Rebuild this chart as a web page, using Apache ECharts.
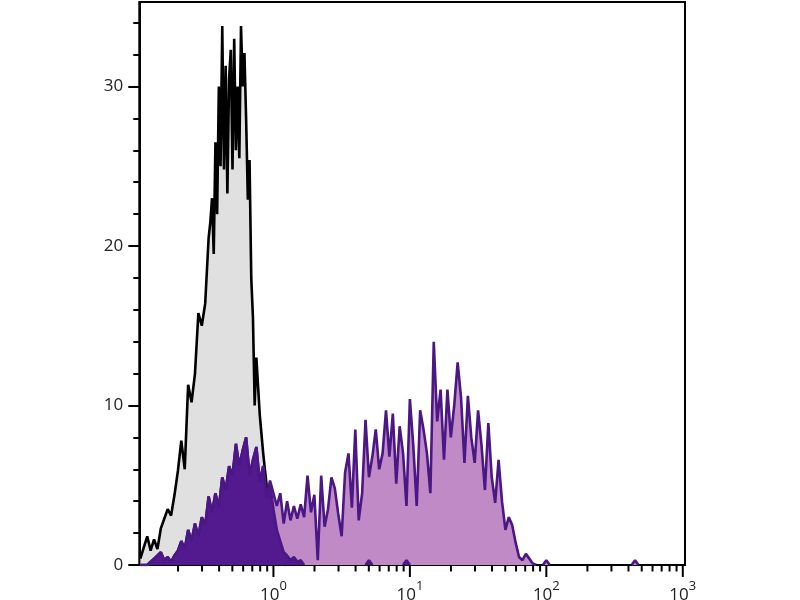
<!DOCTYPE html>
<html><head><meta charset="utf-8">
<script src="https://cdn.jsdelivr.net/npm/echarts@6/dist/echarts.min.js"></script>
<style>html,body{margin:0;padding:0;background:#fff}#c{width:800px;height:600px}</style>
</head><body><div id="c"></div>
<script>
// Channel centres (log-spaced fluorescence bins)
const channels = [
  0.1059, 0.1122, 0.1189, 0.1259, 0.1334, 0.1413, 0.1496, 0.1585, 0.1679, 0.1778,
  0.1884, 0.1995, 0.2113, 0.2239, 0.2371, 0.2512, 0.2661, 0.2818, 0.2985, 0.3162,
  0.3350, 0.3548, 0.3758, 0.3981, 0.4217, 0.4467, 0.4732, 0.5012, 0.5309, 0.5623,
  0.5957, 0.6310, 0.6683, 0.7079, 0.7499, 0.7943, 0.8414, 0.8913, 0.9441,
  1.000, 1.059, 1.122, 1.189, 1.259, 1.334, 1.413, 1.496, 1.585, 1.679,
  1.778, 1.884, 1.995, 2.113, 2.239, 2.371, 2.512, 2.661, 2.818, 2.985,
  3.162, 3.350, 3.548, 3.758, 3.981, 4.217, 4.467, 4.732, 5.012, 5.309,
  5.623, 5.957, 6.310, 6.683, 7.079, 7.499, 7.943, 8.414, 8.913, 9.441,
  10.00, 10.59, 11.22, 11.89, 12.59, 13.34, 14.13, 14.96, 15.85, 16.79,
  17.78, 18.84, 19.95, 21.13, 22.39, 23.71, 25.12, 26.61, 28.18, 29.85,
  31.62, 33.50, 35.48, 37.58, 39.81, 42.17, 44.67, 47.32, 50.12, 53.09,
  56.23, 59.57, 63.10, 66.83, 70.79, 74.99, 79.43, 84.14, 89.13, 94.41,
  100.0, 105.9, 112.2, 118.9, 125.9, 133.4, 141.3, 149.6, 158.5, 167.9,
  177.8, 188.4, 199.5, 211.3, 223.9, 237.1, 251.2, 266.1, 281.8, 298.5,
  316.2, 335.0, 354.8, 375.8, 398.1, 421.7, 446.7, 473.2
];

// Isotype control channels (finer sampling across its peak)
const isotypeChannels = [
  0.1059, 0.1122, 0.1189, 0.1259, 0.1334, 0.1413, 0.1496, 0.1585, 0.1679, 0.1778,
  0.1884, 0.1995, 0.2113, 0.2239, 0.2371, 0.2512, 0.2661, 0.2818, 0.2985, 0.3162,
  0.3350, 0.3448, 0.3548, 0.3652, 0.3758, 0.3868, 0.3981, 0.4097, 0.4217, 0.4340,
  0.4467, 0.4597, 0.4732, 0.4870, 0.5012, 0.5158, 0.5309, 0.5464, 0.5623, 0.5787,
  0.5957, 0.6131, 0.6310, 0.6494, 0.6683, 0.6878, 0.7079, 0.7286, 0.7499, 0.7943,
  0.8414, 0.8913, 0.9441, 1.000, 1.059, 1.122, 1.189, 1.259
];
// Isotype control counts (grey fill, black outline)
const isotypeCounts = [
  0.4, 1.1, 1.8, 0.9, 1.6, 1.0, 2.3, 2.9, 3.5, 3.1,
  4.4, 5.9, 7.8, 6.0, 11.3, 10.2, 12.0, 15.8, 15.0, 16.4,
  20.5, 21.5, 23.0, 19.5, 26.5, 22.0, 30.0, 25.0, 33.8, 24.8,
  31.3, 23.3, 30.5, 32.3, 24.8, 33.0, 26.0, 30.0, 25.5, 33.8,
  30.0, 32.1, 27.9, 22.9, 25.4, 18.0, 15.5, 10.0, 13.0, 9.4,
  7.0, 5.0, 3.2, 2.2, 1.3, 0.3, 0, 0
];

// Stained sample counts (light purple fill)
const stainedCounts = [
  0, 0, 0, 0.2, 0.4, 0.6, 0.8, 0.3, 0.5, 0.2,
  0.6, 0.9, 1.5, 1.0, 2.2, 1.5, 2.6, 1.8, 3.0, 2.5,
  4.3, 3.3, 4.5, 3.6, 5.5, 4.7, 6.2, 5.6, 7.6, 6.2,
  7.2, 8.0, 5.6, 6.6, 7.4, 5.2, 6.2, 4.2, 5.3, 4.5,
  3.7, 4.5, 2.6, 4.0, 2.8, 3.7, 2.9, 3.8, 3.0, 5.6,
  3.3, 4.4, 0.3, 5.6, 2.4, 3.5, 5.5, 4.8, 3.2, 1.8,
  5.8, 7.0, 3.6, 8.5, 2.8, 4.5, 9.1, 5.5, 6.8, 8.5,
  6.0, 7.0, 9.7, 6.8, 9.5, 5.1, 8.7, 7.0, 3.7, 10.4,
  7.5, 3.7, 9.7, 8.5, 7.0, 4.5, 14.0, 9.0, 11.0, 6.6,
  11.0, 8.0, 10.0, 12.7, 10.5, 6.4, 10.6, 8.0, 6.4, 9.7,
  7.5, 4.7, 8.9, 5.5, 3.9, 6.6, 4.0, 2.2, 3.0, 2.5,
  1.4, 0.5, 0.3, 0.7, 0.4, 0.1, 0, null, 0, 0.3,
  0, null, null, null, null, null, null, null, null, null,
  null, null, null, null, null, null, null, null, null, null,
  null, null, null, null, 0, 0.3, 0
];

// Negative population counts (dark purple fill)
const negativeCounts = [
  0, 0, 0, 0.2, 0.4, 0.6, 0.8, 0.3, 0.5, 0.2,
  0.6, 0.9, 1.5, 1.0, 2.2, 1.5, 2.6, 1.8, 3.0, 2.5,
  4.3, 3.3, 4.5, 3.6, 5.5, 4.7, 6.2, 5.6, 7.6, 6.2,
  7.2, 8.0, 5.6, 6.6, 7.4, 5.2, 6.2, 4.2, 5.0, 3.5,
  2.2, 1.5, 0.8, 0.6, 0.3, 0.5, 0.2, 0.3, 0, null,
  null, null, null, null, null, null, null, null, null, null,
  null, null, null, null, null, null, 0, 0.3, 0, null,
  null, null, null, null, null, null, null, 0, 0.3, 0
];

const xTickValues = [1, 10, 100, 1000];
const xTickExponents = ['0', '1', '2', '3'];
const xMinorTickValues = [0.2, 0.3, 0.4, 0.5, 0.6, 0.7, 0.8, 0.9,
  2, 3, 4, 5, 6, 7, 8, 9, 20, 30, 40, 50, 60, 70, 80, 90,
  200, 300, 400, 500, 600, 700, 800, 900];
const yTickValues = [0, 10, 20, 30];

const FONT = 'Open Sans';
function pairs(xs, vals) { return vals.map((v, i) => [xs[i], v === null ? '-' : v]); }

const chart = echarts.init(document.getElementById('c'), null, { renderer: 'canvas' });
const lineColor = '#4a1784';
chart.setOption({
  animation: false,
  backgroundColor: '#fff',
  grid: { left: 139.3, right: 115, top: 2, bottom: 35, show: true, borderColor: '#000', borderWidth: 2, outerBoundsMode: 'none' },
  xAxis: {
    type: 'log', logBase: 10, min: 0.104, max: 1038,
    axisLine: { lineStyle: { color: '#000', width: 2 } },
    axisTick: { show: false },
    splitLine: { show: false },
    axisLabel: {
      margin: 15,
      formatter: function (v) {
        const i = xTickValues.findIndex(t => Math.abs(t - v) / t < 1e-6);
        return i < 0 ? '' : '{b|10}{s|' + xTickExponents[i] + '}';
      },
      rich: {
        b: { fontFamily: FONT, fontSize: 17, color: '#222', lineHeight: 24, verticalAlign: 'bottom' },
        s: { fontFamily: FONT, fontSize: 13, color: '#222', lineHeight: 13, verticalAlign: 'top' }
      }
    }
  },
  yAxis: {
    type: 'value', min: 0, max: 35.3, interval: 10,
    axisLine: { show: true, lineStyle: { color: '#000', width: 2 } },
    axisTick: { show: true, length: 11, lineStyle: { color: '#000', width: 2 }, customValues: yTickValues },
    minorTick: { show: true, splitNumber: 5, length: 6, lineStyle: { color: '#000', width: 2 } },
    splitLine: { show: false },
    axisLabel: { customValues: yTickValues, margin: 16, fontFamily: FONT, fontSize: 17, color: '#222' }
  },
  series: [
    {
      type: 'line', data: pairs(isotypeChannels, isotypeCounts), showSymbol: false, symbol: 'none',
      lineStyle: { color: '#000', width: 2.6 }, areaStyle: { color: '#e0e0e0', opacity: 1 },
      z: 2
    },
    {
      type: 'line', data: pairs(channels, stainedCounts), showSymbol: false, symbol: 'none',
      lineStyle: { color: lineColor, width: 2.6 }, areaStyle: { color: '#c08ac6', opacity: 1 },
      z: 3
    },
    {
      type: 'line', data: pairs(channels, negativeCounts), showSymbol: false, symbol: 'none',
      lineStyle: { color: lineColor, width: 2.6 }, areaStyle: { color: '#521a8e', opacity: 1 },
      z: 4
    },
    {
      type: 'custom', silent: true, clip: false, z: 10,
      data: xTickValues.map(v => [v, 0, 12]).concat(xMinorTickValues.map(v => [v, 0, 6.5])),
      encode: { x: 0, y: 1 },
      renderItem: function (params, api) {
        const p = api.coord([api.value(0), api.value(1)]);
        const len = api.value(2);
        return { type: 'line', shape: { x1: p[0], y1: p[1], x2: p[0], y2: p[1] + len }, style: { stroke: '#000', lineWidth: 2 } };
      }
    }
  ]
});
</script>
</body></html>
